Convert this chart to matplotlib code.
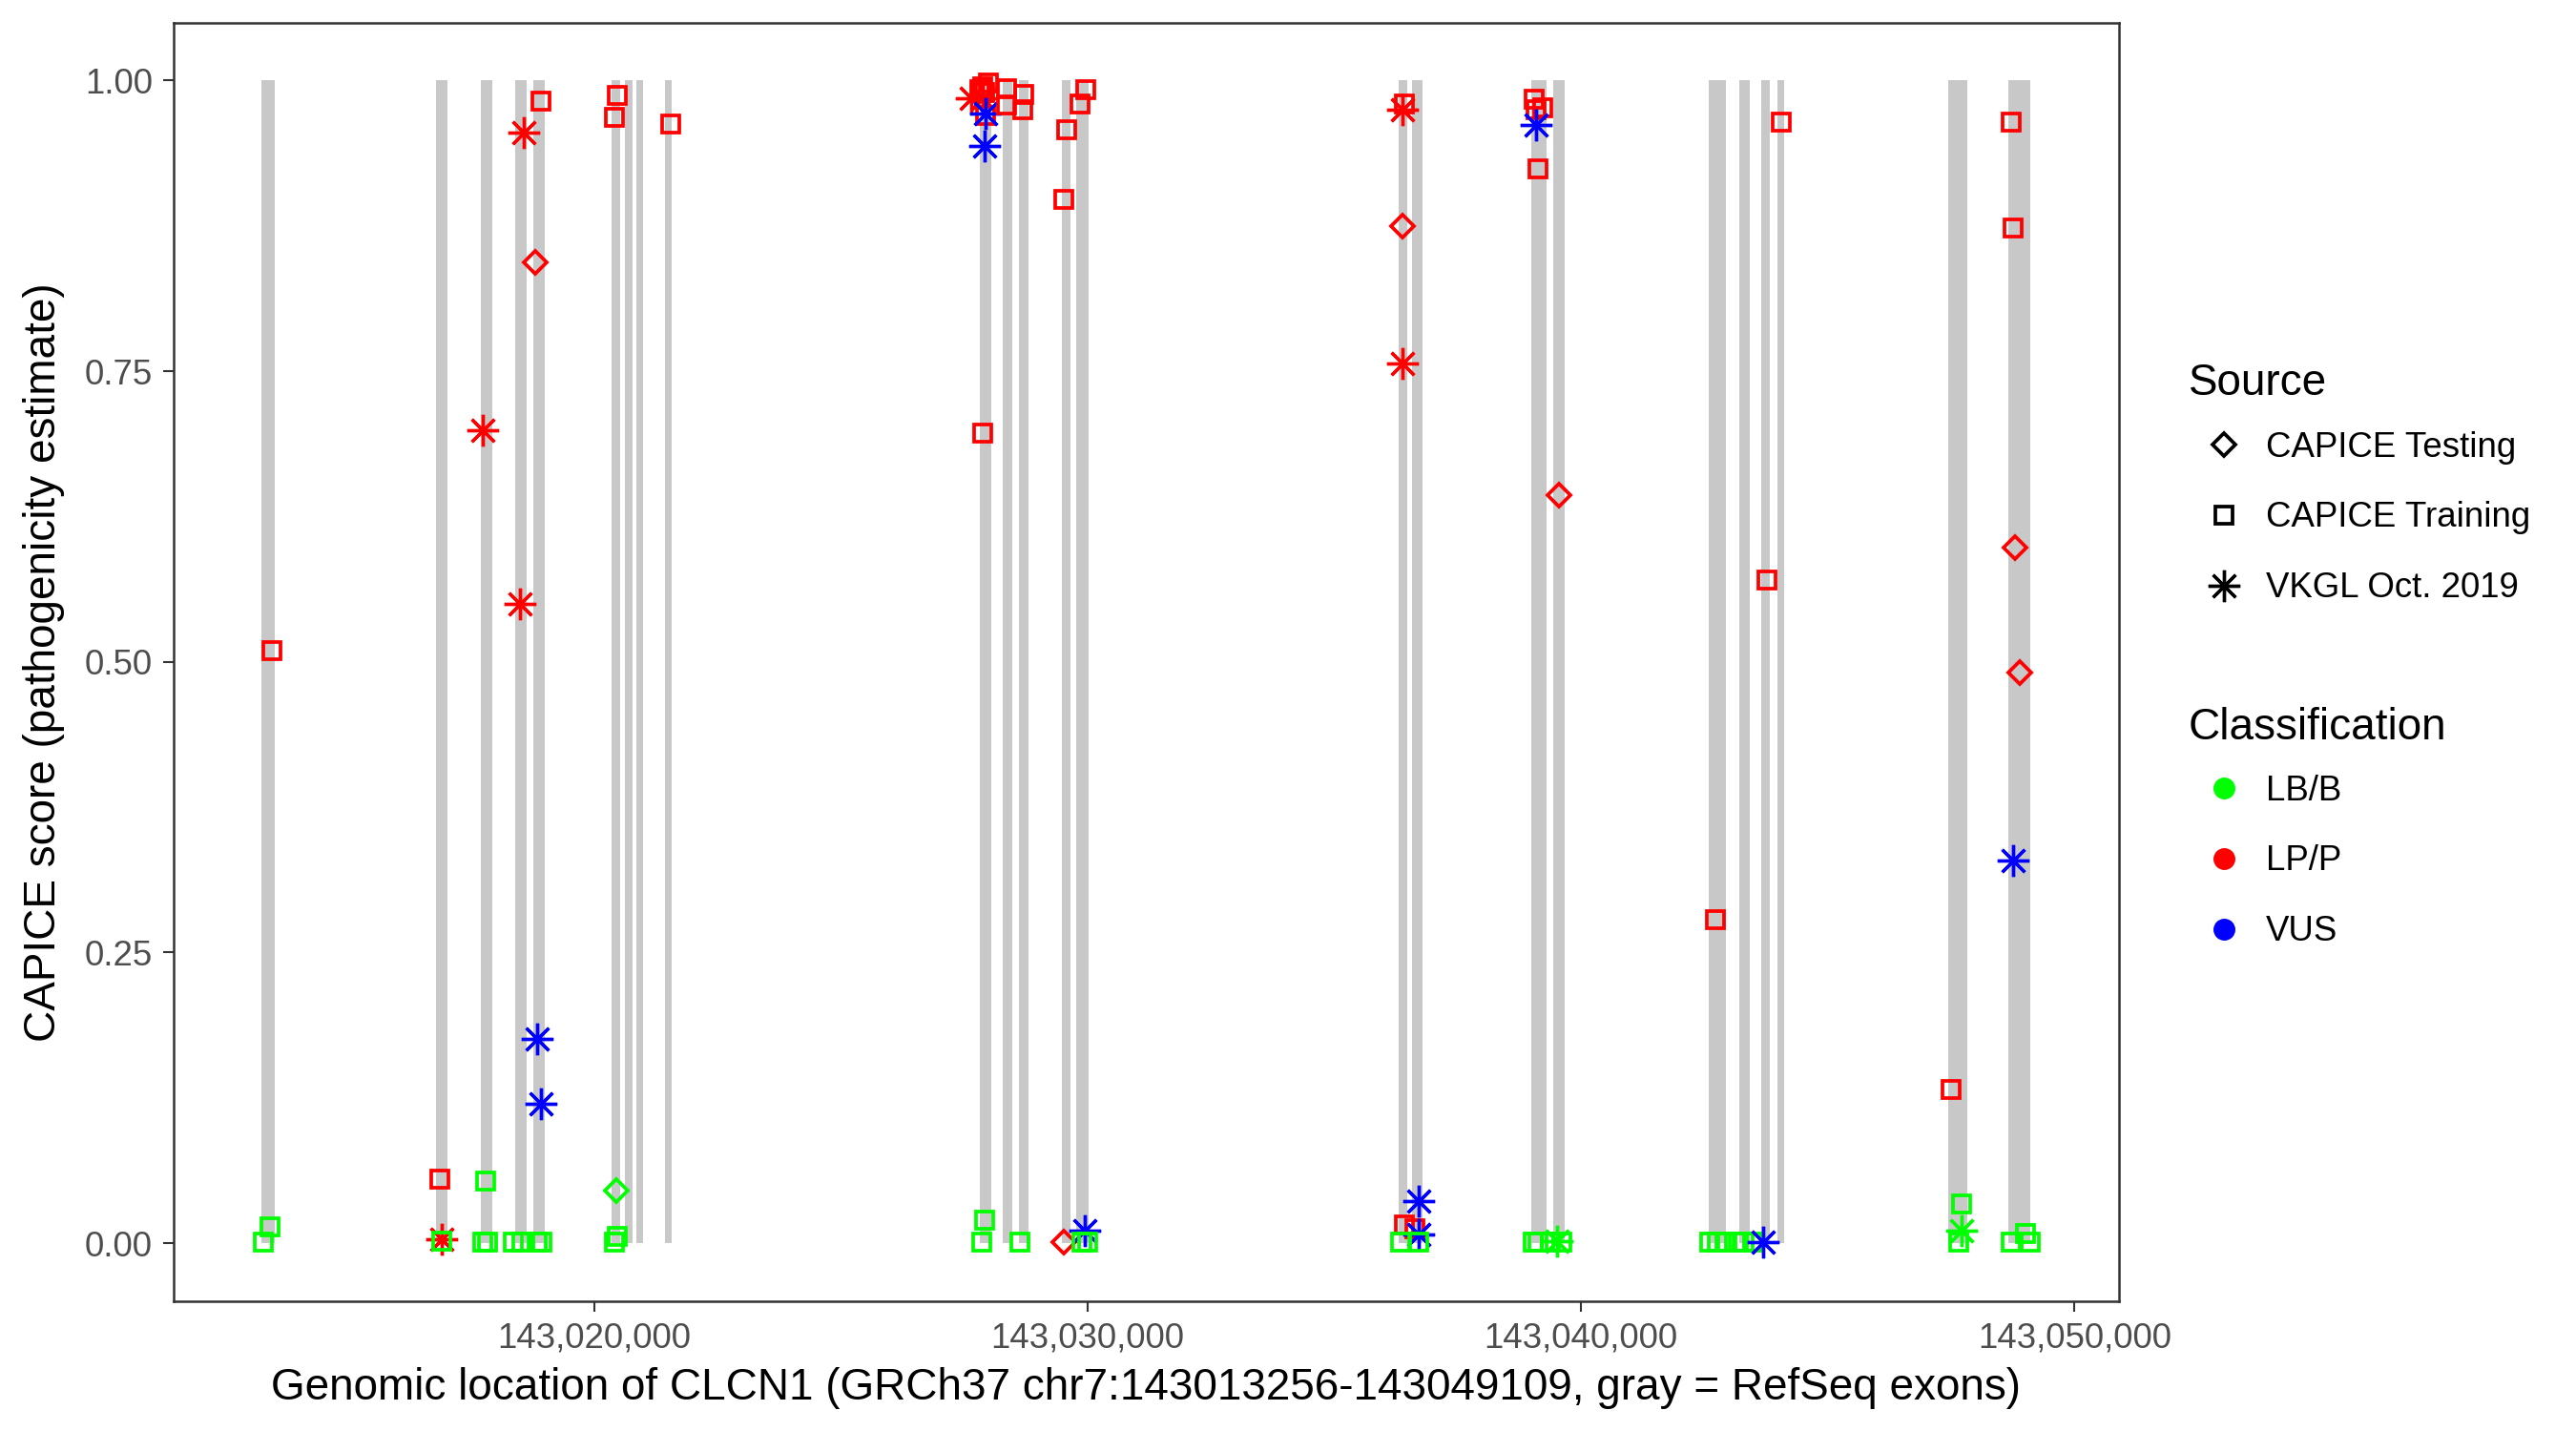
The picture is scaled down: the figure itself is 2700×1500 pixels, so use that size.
"""Recreate CAPICE score vs genomic location plot for CLCN1."""

import matplotlib
matplotlib.use('Agg')
import matplotlib.pyplot as plt
from matplotlib.lines import Line2D
from matplotlib.ticker import FuncFormatter

# RefSeq exons (gray bars)
exon_start = [143013248, 143016787, 143017696, 143018392, 143018760, 143020345,
              143020616, 143020848, 143021428, 143027810, 143028275, 143028603,
              143029473, 143029763, 143036300, 143036571, 143038988, 143039433,
              143042585, 143043204, 143043649, 143043977, 143047439, 143048657]
exon_end = [143013519, 143017019, 143017928, 143018624, 143018992, 143020520,
            143020771, 143020984, 143021564, 143028042, 143028468, 143028797,
            143029648, 143030015, 143036474, 143036784, 143039298, 143039665,
            143042933, 143043417, 143043823, 143044113, 143047826, 143049109]

# variants
position = [
    143013461, 143013422, 143013287, 143016864, 143016903, 143016903,
    143017735, 143017793, 143017735, 143017832, 143018489, 143018566,
    143018798, 143018914, 143018837, 143018914, 143018356, 143018530,
    143018837, 143018934, 143020461, 143020403, 143021544, 143020442,
    143020403, 143020461,
    143027636, 143027868, 143027907, 143027868, 143027985, 143027810,
    143027926, 143027926, 143027907, 143028352, 143028352, 143028700,
    143028681, 143029570, 143029512, 143029957, 143029841, 143027868,
    143027907, 143027849, 143028622, 143029512, 143029937, 143029879,
    143029995,
    143036416, 143036378, 143036378, 143036378, 143036706, 143036416,
    143036629, 143036706, 143036339, 143036706, 143039046, 143039220,
    143039085, 143039085, 143039124, 143039549, 143039027, 143039124,
    143039375, 143039510, 143039607,
    143044055, 143043765, 143042721, 143042604, 143042759, 143042914,
    143043185, 143043301, 143043475, 143043688, 143047497, 143047710,
    143047710, 143047652, 143048715, 143048754, 143048793, 143048890,
    143048754, 143048715, 143049006, 143049102,
]
score = [
    0.510, 0.014, 0.001, 0.055, 0.003, 0.002,
    0.699, 0.053, 0.001, 0.001, 0.550, 0.955,
    0.844, 0.982, 0.176, 0.120, 0.001, 0.001,
    0.001, 0.001, 0.987, 0.968, 0.963, 0.045,
    0.001, 0.006,
    0.985, 0.995, 0.990, 0.985, 0.998, 0.992,
    0.970, 0.972, 0.944, 0.993, 0.979, 0.988,
    0.975, 0.958, 0.898, 0.992, 0.980, 0.697,
    0.020, 0.001, 0.001, 0.001, 0.011, 0.001,
    0.001,
    0.980, 0.975, 0.875, 0.757, 0.036, 0.016,
    0.012, 0.007, 0.001, 0.001, 0.984, 0.977,
    0.975, 0.962, 0.924, 0.643, 0.001, 0.001,
    0.001, 0.002, 0.001,
    0.964, 0.570, 0.278, 0.001, 0.001, 0.001,
    0.001, 0.001, 0.001, 0.001, 0.132, 0.034,
    0.011, 0.001, 0.964, 0.873, 0.598, 0.491,
    0.329, 0.001, 0.008, 0.001,
]
T, R, V = 'CAPICE Testing', 'CAPICE Training', 'VKGL Oct. 2019'
source = [
    R, R, R, R, V, R,
    V, R, R, R, V, V,
    T, R, V, V, R, R,
    R, R, R, R, R, T,
    R, R,
    V, R, R, V, R, R,
    R, V, V, R, R, R,
    R, R, R, R, R, R,
    R, R, R, T, V, R,
    R,
    R, V, T, V, V, R,
    R, V, R, R, R, R,
    R, V, R, T, R, R,
    R, V, R,
    R, R, R, R, R, R,
    R, R, R, V, R, R,
    V, R, R, R, T, T,
    V, R, R, R,
]
B, P, U = 'LB/B', 'LP/P', 'VUS'
classification = [
    P, B, B, P, P, B,
    P, B, B, B, P, P,
    P, P, U, U, B, B,
    B, B, P, P, P, B,
    B, B,
    P, P, P, P, P, P,
    P, U, U, P, P, P,
    P, P, P, P, P, P,
    B, B, B, P, U, B,
    B,
    P, P, P, P, U, P,
    P, U, B, B, P, P,
    P, U, P, P, B, B,
    B, B, B,
    P, P, P, B, B, B,
    B, B, B, U, P, B,
    B, B, P, P, P, P,
    U, B, B, B,
]

source_names = [T, R, V]
class_names = [B, P, U]
markers = {T: 'D', R: 's', V: (8, 2, 0)}
msizes = {T: 4.1, R: 4.3, V: 8.0}
mwidths = {T: 0.9, R: 0.9, V: 0.8}
colors = {B: '#00FF00', P: '#FF0000', U: '#0000FF'}


def main():
    plt.rcParams['font.family'] = ['Liberation Sans', 'DejaVu Sans']
    fig = plt.figure(figsize=(9, 5), dpi=300)
    ax = fig.add_axes([0.0673, 0.0907, 0.8226 - 0.0673, 0.9843 - 0.0907])

    # exons as gray bars from 0 to 1
    widths = [e - s for s, e in zip(exon_start, exon_end)]
    ax.bar(exon_start, [1] * len(exon_start), width=widths, bottom=0,
           align='edge', color='#C8C8C8', linewidth=0, zorder=1)

    for i in range(len(position)):
        src = source[i]
        cls = classification[i]
        ax.plot(position[i], score[i], linestyle='none', marker=markers[src],
                markersize=msizes[src], markerfacecolor='none',
                markeredgecolor=colors[cls], color=colors[cls],
                markeredgewidth=mwidths[src], zorder=3)

    gene_lo, gene_hi = 143013256, 143049109
    pad = (gene_hi - gene_lo) * 0.05
    ax.set_xlim(gene_lo - pad, gene_hi + pad)
    ax.set_ylim(-0.05, 1.05)
    ax.set_xticks([143020000, 143030000, 143040000, 143050000])
    ax.xaxis.set_major_formatter(FuncFormatter(lambda v, p: f'{int(v):,}'))
    ax.set_yticks([0, 0.25, 0.5, 0.75, 1.0])
    ax.set_yticklabels(['0.00', '0.25', '0.50', '0.75', '1.00'])
    ax.tick_params(length=2.75, width=0.5, color='#333333', labelsize=8.8,
                   labelcolor='#4D4D4D', pad=2.5)
    for sp in ax.spines.values():
        sp.set_color('#333333')
        sp.set_linewidth(0.6)

    ax.set_xlabel('Genomic location of CLCN1 (GRCh37 chr7:143013256-143049109, '
                  'gray = RefSeq exons)', fontsize=11, labelpad=3)
    ax.set_ylabel('CAPICE score (pathogenicity estimate)', fontsize=11, labelpad=5)

    # legends: titles as figure text, keys as untitled legends
    src_handles = [Line2D([], [], linestyle='none', marker=markers[s],
                          markersize=msizes[s], markerfacecolor='none',
                          markeredgecolor='black', markeredgewidth=mwidths[s])
                   for s in source_names]
    cls_handles = [Line2D([], [], linestyle='none', marker='o', markersize=4.5,
                          markerfacecolor=colors[c], markeredgecolor=colors[c])
                   for c in class_names]
    leg_x = 2294 / 2700
    leg_kw = dict(frameon=False, fontsize=8.8, loc='center left',
                  handlelength=2.0, handletextpad=0.2,
                  labelspacing=1.06, borderpad=0, borderaxespad=0,
                  bbox_transform=fig.transFigure)
    fig.text(leg_x, 1 - 414 / 1500, 'Source', fontsize=11, va='baseline')
    leg1 = ax.legend(src_handles, source_names,
                     bbox_to_anchor=(leg_x, 1 - 543 / 1500), **leg_kw)
    ax.add_artist(leg1)
    fig.text(leg_x, 1 - 775 / 1500, 'Classification', fontsize=11, va='baseline')
    ax.legend(cls_handles, class_names,
              bbox_to_anchor=(leg_x, 1 - 903 / 1500), **leg_kw)

    fig.savefig('out.png', dpi=300)


if __name__ == '__main__':
    main()
